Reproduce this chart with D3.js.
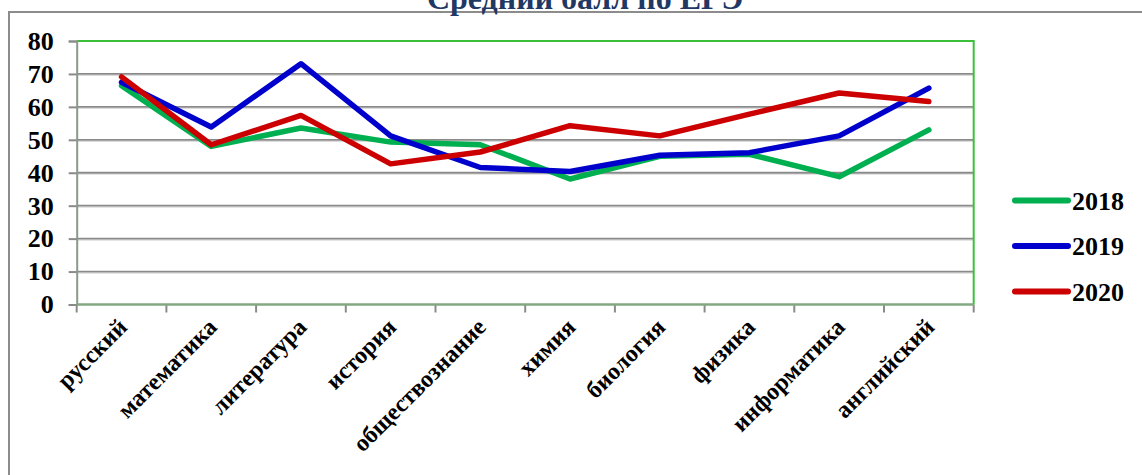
<!DOCTYPE html>
<html>
<head>
<meta charset="utf-8">
<script src="https://cdn.jsdelivr.net/npm/d3@7"></script>
<style>
  body { margin: 0; background: #fff; }
</style>
</head>
<body>
<script>
// data
var subjects = ['русский', 'математика', 'литература', 'история', 'обществознание',
                'химия', 'биология', 'физика', 'информатика', 'английский'];
var years = ['2018', '2019', '2020'];
var scores2018 = [66.4, 48.0, 53.6, 49.3, 48.5, 38.1, 45.0, 45.6, 38.8, 53.0];
var scores2019 = [67.5, 53.9, 73.1, 51.2, 41.6, 40.4, 45.3, 46.1, 51.2, 65.7];
var scores2020 = [69.1, 48.5, 57.4, 42.7, 46.3, 54.3, 51.2, 57.8, 64.2, 61.6];
var yTicks = [0, 10, 20, 30, 40, 50, 60, 70, 80];
var colours = ['#00B050', '#0000CC', '#CC0000'];

(function() {

    var series = [scores2018, scores2019, scores2020];
    var FONT = "'Liberation Serif', 'Times New Roman', Times, serif";

    var W = 1142, H = 475;
    var pLeft = 76.7, pRight = 973.7, pTop = 41, pBottom = 304.5;

    var svg = d3.select('body').append('svg')
        .attr('width', W)
        .attr('height', H);

    // outer frame (runs off the right and bottom edge)
    svg.append('rect')
        .attr('x', 9).attr('y', 12)
        .attr('width', 1300).attr('height', 600)
        .attr('fill', 'none')
        .attr('stroke', '#8c8c8c')
        .attr('stroke-width', 2);

    svg.append('text')
        .attr('x', 585).attr('y', 9)
        .attr('text-anchor', 'middle')
        .style('font-family', FONT).style('font-weight', 'bold')
        .style('font-size', '32px')
        .attr('fill', '#1F3864')
        .text('Средний балл по ЕГЭ');

    var x = d3.scaleBand().domain(subjects).range([pLeft, pRight]);
    var y = d3.scaleLinear().domain([0, 80]).range([pBottom, pTop]);

    // gridlines (with a light shadow under each)
    svg.selectAll('.shadow').data(yTicks.slice(1, -1)).enter().append('line')
        .attr('x1', pLeft).attr('x2', pRight)
        .attr('y1', function(d) { return y(d) + 1.5; })
        .attr('y2', function(d) { return y(d) + 1.5; })
        .attr('stroke', '#dcdcdc').attr('stroke-width', 1.2);

    svg.selectAll('.grid').data(yTicks.slice(1, -1)).enter().append('line')
        .attr('x1', pLeft).attr('x2', pRight)
        .attr('y1', function(d) { return y(d); })
        .attr('y2', function(d) { return y(d); })
        .attr('stroke', '#8a8a8a').attr('stroke-width', 1.8);

    // plot border top/right in green
    svg.append('path')
        .attr('d', 'M' + pLeft + ',' + y(80) + 'H' + pRight + 'V' + pBottom)
        .attr('fill', 'none')
        .attr('stroke', '#3CC03C')
        .attr('stroke-width', 2);

    // y axis
    var yAxis = svg.append('g')
        .attr('transform', 'translate(' + pLeft + ',0)')
        .call(d3.axisLeft(y).tickValues(yTicks).tickSize(8).tickPadding(15));
    yAxis.select('.domain').attr('stroke', '#8a9a8a').attr('stroke-width', 2);
    yAxis.selectAll('.tick line').attr('stroke', '#8a8a8a').attr('stroke-width', 2);
    yAxis.selectAll('.tick text')
        .attr('fill', '#000')
        .style('font-family', FONT).style('font-weight', 'bold')
        .style('font-size', '26px');

    // x axis, ticks between categories
    var bounds = subjects.map(function(s) { return x(s); }).concat([pRight]);
    svg.selectAll('.xtick').data(bounds).enter().append('line')
        .attr('x1', function(d) { return d; }).attr('x2', function(d) { return d; })
        .attr('y1', pBottom).attr('y2', pBottom + 8)
        .attr('stroke', '#8a8a8a').attr('stroke-width', 2);
    svg.append('line')
        .attr('x1', pLeft).attr('x2', pRight)
        .attr('y1', pBottom).attr('y2', pBottom)
        .attr('stroke', '#82a882').attr('stroke-width', 2.5);

    svg.selectAll('.xlabel').data(subjects).enter().append('text')
        .attr('text-anchor', 'end')
        .style('font-family', FONT).style('font-weight', 'bold')
        .style('font-size', '24px')
        .attr('transform', function(d) {
            var cx = x(d) + x.bandwidth() / 2 + 7;
            return 'translate(' + cx + ',' + (pBottom + 24) + ') rotate(-45)';
        })
        .text(function(d) { return d; });

    // lines
    var line = d3.line()
        .x(function(d, i) { return x(subjects[i]) + x.bandwidth() / 2; })
        .y(function(d) { return y(d); });

    svg.selectAll('.series').data(series).enter().append('path')
        .attr('d', line)
        .attr('fill', 'none')
        .attr('stroke', function(d, i) { return colours[i]; })
        .attr('stroke-width', 5.5)
        .attr('stroke-linejoin', 'round')
        .attr('stroke-linecap', 'round');

    // legend
    var legend = svg.selectAll('.legend').data(years).enter().append('g')
        .attr('transform', function(d, i) { return 'translate(1015,' + (200.5 + i * 45.5) + ')'; });
    legend.append('line')
        .attr('x1', 0).attr('x2', 53)
        .attr('stroke', function(d, i) { return colours[i]; })
        .attr('stroke-width', 6)
        .attr('stroke-linecap', 'round');
    legend.append('text')
        .attr('x', 57).attr('y', 9)
        .style('font-family', FONT).style('font-weight', 'bold')
        .style('font-size', '26px')
        .text(function(d) { return d; });

})();
</script>
</body>
</html>
